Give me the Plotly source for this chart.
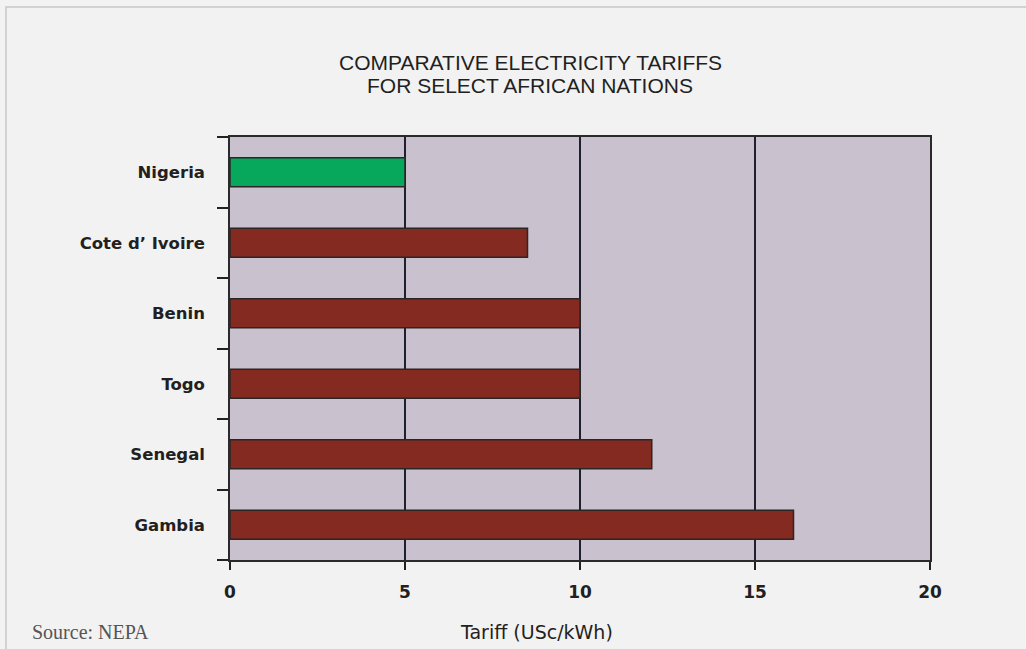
import plotly.graph_objects as go

countries = ["Nigeria", "Cote d’ Ivoire", "Benin", "Togo", "Senegal", "Gambia"]
tariffs = [5.0, 8.5, 10.0, 10.0, 12.05, 16.1]
bar_colors = ["#07a85c", "#842a21", "#842a21", "#842a21", "#842a21", "#842a21"]
x_ticks = [0, 5, 10, 15, 20]
title_lines = ["COMPARATIVE ELECTRICITY TARIFFS", "FOR SELECT AFRICAN NATIONS"]

W, H = 1026, 649
L, R, T, B = 230, 96, 137, 89
pw, ph = W - L - R, H - T - B

def px(x):
    return (x - L) / pw

def py(y):
    return (H - B - y) / ph

fig = go.Figure(go.Bar(
    x=tariffs, y=countries, orientation="h",
    marker=dict(color=bar_colors, line=dict(color="#2a2626", width=1.5)),
    width=0.41,
))

title_font = dict(family="Liberation Sans Narrow, Arial Narrow, Liberation Sans",
                  size=21, color="#231f20")

fig.update_layout(
    width=W, height=H,
    margin=dict(l=L, r=R, t=T, b=B),
    paper_bgcolor="#f2f2f2",
    plot_bgcolor="#c9c1cd",
    showlegend=False,
    xaxis=dict(
        range=[0, 20], tickvals=x_ticks, ticks="outside", ticklen=8,
        tickcolor="#222", tickwidth=1.5,
        showgrid=True, gridcolor="#1e2030", gridwidth=1.5,
        showline=True, linecolor="#2a2a2a", linewidth=1.5, mirror=True,
        zeroline=False,
        tickfont=dict(family="DejaVu Sans", size=17, color="#231f20", weight="bold"),
        ticklabelstandoff=8,
    ),
    yaxis=dict(
        categoryorder="array", categoryarray=countries[::-1],
        tickson="boundaries", ticks="outside", ticklen=11,
        tickcolor="#222", tickwidth=1.5,
        showgrid=False,
        showline=True, linecolor="#2a2a2a", linewidth=1.5, mirror=True,
        tickfont=dict(family="DejaVu Sans", size=16.5, color="#231f20", weight="bold"),
        ticklabelstandoff=20,
    ),
    shapes=[dict(type="rect", xref="paper", yref="paper",
                 x0=px(6), x1=px(W + 20), y0=py(H + 20), y1=py(7),
                 line=dict(color="#c8c8c8", width=1.5), fillcolor="rgba(0,0,0,0)",
                 layer="below")],
    annotations=[
        dict(text=title_lines[0], xref="paper", yref="paper", x=px(530), y=py(62),
             xanchor="center", yanchor="middle", showarrow=False, font=title_font),
        dict(text=title_lines[1], xref="paper", yref="paper", x=px(530), y=py(86),
             xanchor="center", yanchor="middle", showarrow=False, font=title_font),
        dict(text="Tariff (USc/kWh)", xref="paper", yref="paper",
             x=px(536), y=py(632), xanchor="center", yanchor="middle",
             showarrow=False,
             font=dict(family="DejaVu Sans", size=19, color="#231f20")),
        dict(text="Source: NEPA", xref="paper", yref="paper",
             x=px(30), y=py(632), xanchor="left", yanchor="middle",
             showarrow=False,
             font=dict(family="Liberation Serif", size=20, color="#555555")),
    ],
)

fig.write_html(
    "out.html",
    config={"displayModeBar": False},
    post_script="document.body.style.margin='0';document.body.style.background='#f2f2f2';",
)
